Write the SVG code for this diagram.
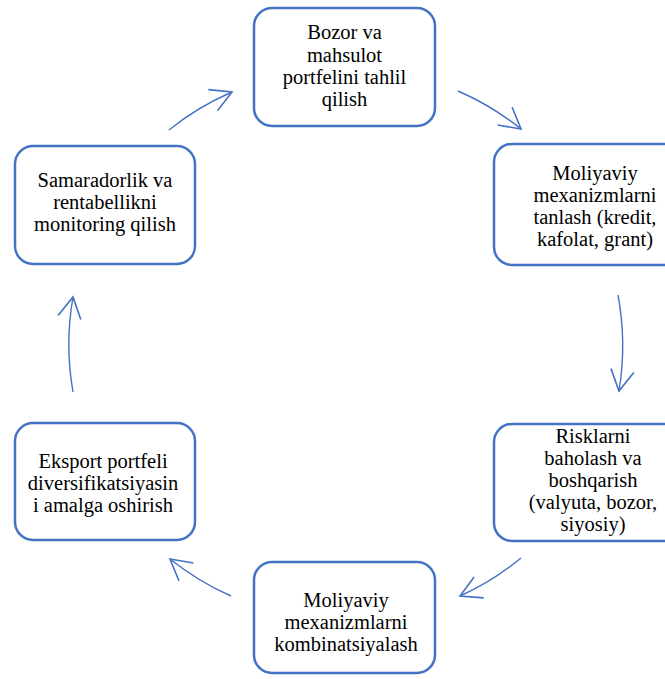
<svg xmlns="http://www.w3.org/2000/svg" width="665" height="679" viewBox="0 0 665 679">
<defs>
<style>
.box{fill:#fff;stroke:#4472C4;stroke-width:2.5}
text{font-family:'Liberation Serif', 'Times New Roman', serif;font-size:20.5px;fill:#000;text-anchor:middle}
.c{fill:none;stroke:#4472C4;stroke-width:1.4}
</style>
<marker id="ah" markerUnits="userSpaceOnUse" markerWidth="30" markerHeight="30" refX="0" refY="0" viewBox="-22 -12 26 24" orient="auto" overflow="visible">
<path d="M -18 -10 L 0 0 L -18 10" fill="none" stroke="#4472C4" stroke-width="1.4"/>
</marker>
</defs>
<rect width="665" height="679" fill="#fff"/>
<g id="connectors">
<path class="c" marker-end="url(#ah)" d="M 169 130 A 272 272 0 0 1 232 92"/>
<path class="c" marker-end="url(#ah)" d="M 458 91 A 275 275 0 0 1 521 129"/>
<path class="c" marker-end="url(#ah)" d="M 618 295 A 278 278 0 0 1 619 391"/>
<path class="c" marker-end="url(#ah)" d="M 521 558 A 275 275 0 0 1 460 596"/>
<path class="c" marker-end="url(#ah)" d="M 231 596 A 275 275 0 0 1 170 559"/>
<path class="c" marker-end="url(#ah)" d="M 73 392 A 275 275 0 0 1 73 297"/>
</g>
<g font-family="Liberation Serif, serif" font-size="20.5" text-anchor="middle">
<g id="n1">
<rect class="box" x="254" y="8" width="181" height="118" rx="18"/>
<text x="344.5" y="39">Bozor va</text>
<text x="344.5" y="61.5">mahsulot</text>
<text x="344.5" y="84">portfelini tahlil</text>
<text x="344.5" y="106">qilish</text>
</g>
<g id="n2">
<rect class="box" x="494" y="144" width="200" height="121" rx="18"/>
<text x="595" y="180">Moliyaviy</text>
<text x="595" y="202">mexanizmlarni</text>
<text x="595" y="224">tanlash (kredit,</text>
<text x="595" y="246">kafolat, grant)</text>
</g>
<g id="n3">
<rect class="box" x="494" y="424" width="200" height="117" rx="18"/>
<text x="593" y="443">Risklarni</text>
<text x="593" y="465">baholash va</text>
<text x="593" y="487">boshqarish</text>
<text x="593" y="509">(valyuta, bozor,</text>
<text x="593" y="531">siyosiy)</text>
</g>
<g id="n4">
<rect class="box" x="254" y="562" width="181" height="111" rx="18"/>
<text x="346" y="607">Moliyaviy</text>
<text x="346" y="629">mexanizmlarni</text>
<text x="346" y="651">kombinatsiyalash</text>
</g>
<g id="n5">
<rect class="box" x="15" y="423" width="180" height="117" rx="18"/>
<text x="103" y="468">Eksport portfeli</text>
<text x="103" y="490">diversifikatsiyasin</text>
<text x="103" y="512">i amalga oshirish</text>
</g>
<g id="n6">
<rect class="box" x="15" y="146" width="180" height="118" rx="18"/>
<text x="105" y="187">Samaradorlik va</text>
<text x="105" y="209">rentabellikni</text>
<text x="105" y="231">monitoring qilish</text>
</g>
</g>
</svg>
